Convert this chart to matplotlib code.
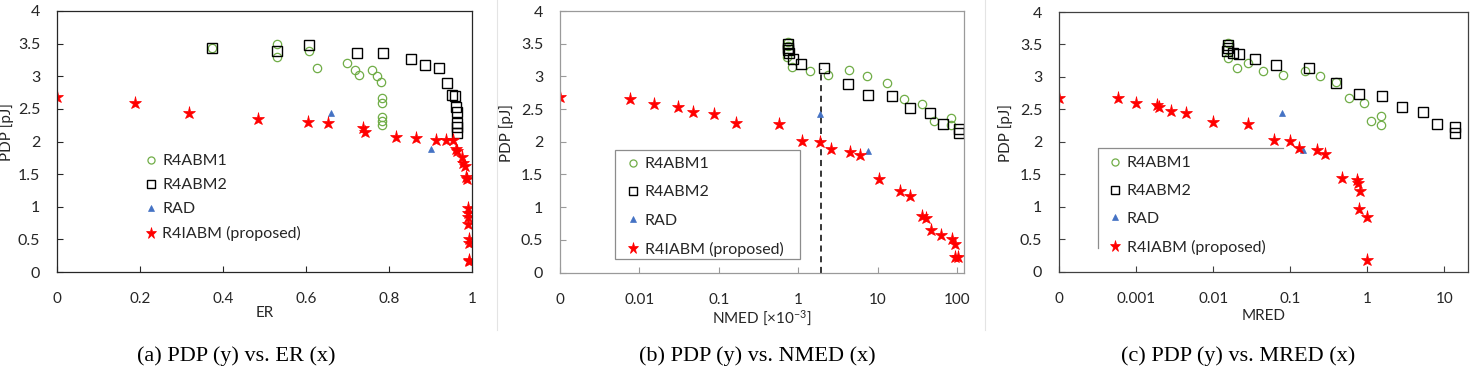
import matplotlib
matplotlib.use("Agg")
import matplotlib.pyplot as plt
from matplotlib.lines import Line2D
from matplotlib.patches import Rectangle

plt.rcParams['font.family'] = ['Lato', 'DejaVu Sans']
plt.rcParams['mathtext.fontset'] = 'custom'
plt.rcParams['mathtext.rm'] = 'Lato'
plt.rcParams['mathtext.default'] = 'regular'

# ---------------- data ----------------
labels = ["R4ABM1", "R4ABM2", "RAD", "R4IABM (proposed)"]

# (a) PDP vs ER
a_abm1_x = [0.374, 0.531, 0.531, 0.608, 0.627, 0.698, 0.718, 0.728, 0.758, 0.772, 0.780, 0.784, 0.784, 0.784, 0.784, 0.784]
a_abm1_y = [3.44, 3.50, 3.29, 3.38, 3.13, 3.20, 3.09, 3.02, 3.09, 3.00, 2.91, 2.66, 2.59, 2.38, 2.32, 2.26]
a_abm2_x = [0.374, 0.531, 0.608, 0.724, 0.785, 0.853, 0.887, 0.920, 0.939, 0.952, 0.959, 0.961, 0.963, 0.963, 0.963, 0.963]
a_abm2_y = [3.44, 3.39, 3.48, 3.36, 3.35, 3.26, 3.18, 3.12, 2.90, 2.72, 2.70, 2.53, 2.45, 2.28, 2.22, 2.13]
a_rad_x = [0.660, 0.901]
a_rad_y = [2.43, 1.88]
a_iabm_x = [0, 0.187, 0.319, 0.484, 0.606, 0.652, 0.738, 0.743, 0.816, 0.864, 0.913, 0.937, 0.955, 0.961,
            0.965, 0.977, 0.979, 0.984, 0.985, 0.987, 0.990, 0.990, 0.991, 0.991, 0.992, 0.992, 0.993, 0.993]
a_iabm_y = [2.68, 2.59, 2.43, 2.34, 2.30, 2.28, 2.20, 2.14, 2.07, 2.05, 2.03, 2.03, 2.02, 1.89,
            1.86, 1.77, 1.67, 1.62, 1.46, 1.43, 0.98, 0.91, 0.84, 0.74, 0.50, 0.44, 0.19, 0.17]

# (b) PDP vs NMED [x1e-3]  (0 drawn at 0.001 on the log axis)
b_abm1_x = [0.74, 0.74, 0.73, 0.84, 1.41, 2.38, 4.38, 7.26, 13.2, 21.2, 36.5, 51.2, 83.2, 83.2]
b_abm1_y = [3.53, 3.47, 3.30, 3.14, 3.08, 3.02, 3.09, 3.00, 2.90, 2.65, 2.58, 2.31, 2.37, 2.25]
b_abm2_x = [0.74, 0.74, 0.75, 0.76, 0.86, 1.07, 2.12, 4.26, 7.62, 15.0, 25.2, 46.0, 66.7, 107.0, 107.0]
b_abm2_y = [3.49, 3.44, 3.40, 3.35, 3.27, 3.19, 3.13, 2.89, 2.72, 2.70, 2.52, 2.44, 2.27, 2.20, 2.13]
b_rad_x = [1.88, 7.47]
b_rad_y = [2.42, 1.86]
b_iabm_x = [0.001, 0.0077, 0.0153, 0.0309, 0.0469, 0.0857, 0.164, 0.57, 1.12, 1.88, 2.57, 4.51, 5.98,
            10.3, 19.2, 25.2, 36.5, 40.9, 47.4, 63.4, 86.4, 93.5, 93.5, 103.0]
b_iabm_y = [2.68, 2.65, 2.57, 2.53, 2.45, 2.42, 2.29, 2.27, 2.01, 2.00, 1.89, 1.85, 1.79,
            1.43, 1.24, 1.17, 0.87, 0.84, 0.65, 0.58, 0.51, 0.43, 0.24, 0.23]
b_ref_x = 1.95
b_ref_top = 3.12

# (c) PDP vs MRED  (0 drawn at 0.0001 on the log axis)
c_abm1_x = [0.0154, 0.0157, 0.0204, 0.0286, 0.0449, 0.0801, 0.153, 0.241, 0.397, 0.580, 0.90, 1.11, 1.50, 1.50]
c_abm1_y = [3.52, 3.29, 3.14, 3.21, 3.09, 3.03, 3.09, 3.01, 2.92, 2.67, 2.59, 2.32, 2.39, 2.26]
c_abm2_x = [0.0154, 0.0154, 0.0153, 0.0179, 0.0219, 0.0353, 0.0644, 0.173, 0.389, 0.775, 1.56, 2.79, 5.24, 8.11, 13.8, 13.8]
c_abm2_y = [3.49, 3.45, 3.40, 3.37, 3.36, 3.27, 3.19, 3.13, 2.91, 2.73, 2.71, 2.54, 2.46, 2.28, 2.23, 2.14]
c_rad_x = [0.0778, 0.146]
c_rad_y = [2.44, 1.87]
c_iabm_x = [0.0001, 0.000586, 0.00099, 0.00189, 0.00199, 0.00282, 0.00442, 0.0100, 0.0280, 0.0607, 0.098,
            0.129, 0.222, 0.285, 0.475, 0.736, 0.759, 0.80, 0.78, 0.99, 0.98]
c_iabm_y = [2.68, 2.67, 2.59, 2.57, 2.54, 2.47, 2.44, 2.30, 2.27, 2.03, 2.01,
            1.91, 1.87, 1.81, 1.44, 1.41, 1.37, 1.24, 0.97, 0.84, 0.17]

a_xticks = [0, 0.2, 0.4, 0.6, 0.8, 1]
a_xticklabels = ["0", "0.2", "0.4", "0.6", "0.8", "1"]
b_xticks = [0.001, 0.01, 0.1, 1, 10, 100]
b_xticklabels = ["0", "0.01", "0.1", "1", "10", "100"]
c_xticks = [0.0001, 0.001, 0.01, 0.1, 1, 10]
c_xticklabels = ["0", "0.001", "0.01", "0.1", "1", "10"]
yticks = [0, 0.5, 1, 1.5, 2, 2.5, 3, 3.5, 4]
yticklabels = ["0", "0.5", "1", "1.5", "2", "2.5", "3", "3.5", "4"]

captions = ["(a) PDP (y) vs. ER (x)", "(b) PDP (y) vs. NMED (x)", "(c) PDP (y) vs. MRED (x)"]
xlabels = ["ER", "NMED [\u00d710$^{-3}$]", "MRED"]

# ---------------- figure ----------------
W, H = 1473, 378
fig = plt.figure(figsize=(W / 100, H / 100), dpi=100)


def rect(l, t, r, b):
    return [l / W, 1 - b / H, (r - l) / W, (b - t) / H]


def fx(px):
    return px / W


def fy(py):
    return 1 - py / H


# faint chart-area borders
for xb in (497, 985):
    fig.add_artist(Line2D([fx(xb), fx(xb)], [fy(0), fy(330)], color='#e4e4e4', lw=0.8))

axes_px = [(57, 11, 472, 272), (560, 11, 964, 272.5), (1059, 12, 1468, 271.5)]
spine_cols = ['#262626', '#9a9a9a', '#404040']

green = '#70AD47'
blue = '#4472C4'
red = '#FF0000'

datasets = [
    (a_abm1_x, a_abm1_y, a_abm2_x, a_abm2_y, a_rad_x, a_rad_y, a_iabm_x, a_iabm_y),
    (b_abm1_x, b_abm1_y, b_abm2_x, b_abm2_y, b_rad_x, b_rad_y, b_iabm_x, b_iabm_y),
    (c_abm1_x, c_abm1_y, c_abm2_x, c_abm2_y, c_rad_x, c_rad_y, c_iabm_x, c_iabm_y),
]
xtick_sets = [(a_xticks, a_xticklabels), (b_xticks, b_xticklabels), (c_xticks, c_xticklabels)]
xlims = [(0, 1), (0.001, 122), (0.0001, 20.2)]
ylab_x = [-0.103, -0.114, -0.112]
xlab_y = [-0.132, -0.138, -0.145]
legend_pos = [(144.5, 154, 0.62), (627, 157, 0.88), (1109, 156, 0.86)]

axs = []
for i in range(3):
    ax = fig.add_axes(rect(*axes_px[i]))
    axs.append(ax)
    d = datasets[i]
    h1, = ax.plot(d[0], d[1], linestyle='none', marker='o', ms=6, mfc='none', mec=green, mew=0.9)
    h2, = ax.plot(d[2], d[3], linestyle='none', marker='s', ms=7, mfc='none', mec='black', mew=1.0)
    h3, = ax.plot(d[4], d[5], linestyle='none', marker='^', ms=5, mfc=blue, mec=blue, mew=0.5)
    h4, = ax.plot(d[6], d[7], linestyle='none', marker='*', ms=9.5, mfc=red, mec=red, mew=0.5)
    if i > 0:
        ax.set_xscale('log')
    ax.set_xlim(*xlims[i])
    ax.set_ylim(0, 4)
    ax.set_xticks(xtick_sets[i][0])
    ax.set_xticklabels(xtick_sets[i][1])
    ax.minorticks_off()
    ax.set_yticks(yticks)
    ax.set_yticklabels(yticklabels)
    ax.tick_params(axis='x', direction='in', length=4, width=0.8, pad=14.5, labelsize=11,
                   color=spine_cols[i], labelcolor='#262626')
    ax.tick_params(axis='y', direction='in', length=4, width=0.8, pad=12, labelsize=11.5,
                   color=spine_cols[i], labelcolor='#262626')
    for s in ax.spines.values():
        s.set_color(spine_cols[i])
        s.set_linewidth(0.9)
    ax.set_ylabel("PDP [pJ]", fontsize=11, color='#262626')
    ax.yaxis.set_label_coords(ylab_x[i], 0.535)
    ax.set_xlabel(xlabels[i], fontsize=11, color='#262626')
    ax.xaxis.set_label_coords(0.5, xlab_y[i])
    handles = [h1, h2, h3, h4]

    leg_left, leg_top, lsp = legend_pos[i]
    ax.legend(handles, labels, loc='upper left', bbox_to_anchor=(fx(leg_left), fy(leg_top)),
              bbox_transform=fig.transFigure, frameon=False, fontsize=11.5, borderpad=0,
              borderaxespad=0, handlelength=0.8, handletextpad=0.32, labelspacing=lsp,
              markerscale=0.85, labelcolor='#262626')

# dashed reference line in (b)
axs[1].vlines(b_ref_x, 0, b_ref_top, colors='black', linestyles=(0, (4, 3)), lw=1.1, zorder=1)

# legend frames
fig.add_artist(Rectangle((fx(615), fy(259)), fx(800) - fx(615), fy(150) - fy(259),
                         fill=False, ec='#8c8c8c', lw=0.9))
fig.add_artist(Line2D([fx(1098), fx(1098), fx(1283)], [fy(248), fy(148), fy(148)], color='#8c8c8c', lw=0.9))

# captions
for cx, txt in zip((236, 757, 1238), captions):
    fig.text(fx(cx), fy(356), txt, ha='center', va='center', fontsize=16,
             family=['Liberation Serif', 'DejaVu Serif'], color='black')

fig.savefig("out.png", dpi=100)
